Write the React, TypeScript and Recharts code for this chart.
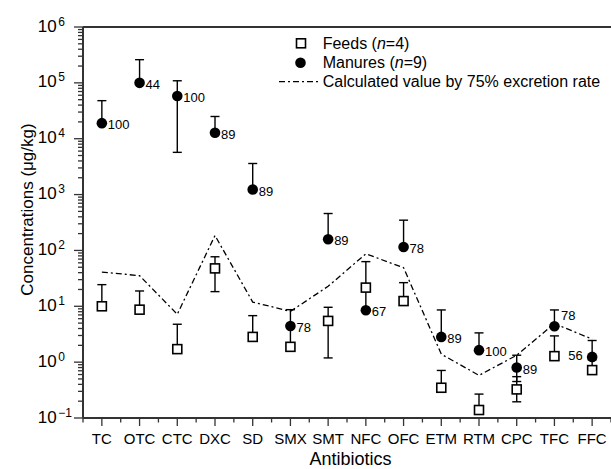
import React from 'react';
import {
  ComposedChart,
  XAxis,
  YAxis,
  Scatter,
  Line,
  ErrorBar,
  ReferenceLine,
  Legend,
} from 'recharts';

const FONT = "'Liberation Sans', Arial, Helvetica, sans-serif";

const categories = ['TC', 'OTC', 'CTC', 'DXC', 'SD', 'SMX', 'SMT', 'NFC', 'OFC', 'ETM', 'RTM', 'CPC', 'TFC', 'FFC'];

// Feeds (n=4): mean, lower bound, upper bound (µg/kg)
const feedMean = [10, 8.7, 1.71, 47.7, 2.83, 1.88, 5.47, 21.6, 12.4, 0.348, 0.139, 0.325, 1.28, 0.72];
const feedLow = [10, 8.7, 1.71, 18.3, 2.83, 1.88, 1.19, 21.6, 12.4, 0.348, 0.139, 0.195, 1.28, 0.72];
const feedHigh = [24.4, 18.8, 4.77, 77, 6.8, 8.7, 9.6, 21.6, 26.5, 0.71, 0.268, 0.55, 2.95, 1.1];

// Manures (n=9): mean, lower bound, upper bound (µg/kg)
const manureMean = [19000, 100000, 58000, 12800, 1230, 4.45, 159, 8.5, 115, 2.83, 1.64, 0.8, 4.4, 1.24];
const manureLow = [19000, 100000, 5700, 12800, 1230, 4.45, 159, 8.5, 115, 2.83, 1.64, 0.45, 4.4, 1.24];
const manureHigh = [48000, 260000, 109000, 25000, 3600, 4.45, 458, 63, 348, 8.6, 3.34, 1.33, 8.6, 2.44];

// Detection frequency (%) of manures
const detection = [100, 44, 100, 89, 89, 78, 89, 67, 78, 89, 100, 89, 78, 56];
const labelSide = ['right', 'right', 'right', 'right', 'right', 'right', 'right', 'right', 'right', 'right', 'right', 'right', 'above', 'left'];

// Calculated value by 75% excretion rate
const calcValue = [41, 35.3, 7.2, 185, 11.9, 8.1, 22.8, 87, 49, 1.39, 0.58, 1.33, 4.9, 2.58];

const yExponents = [-1, 0, 1, 2, 3, 4, 5, 6];

const data = categories.map((name, i) => ({
  x: i,
  name,
  feed: feedMean[i],
  feedErr: [feedMean[i] - feedLow[i], feedHigh[i] - feedMean[i]],
  manure: manureMean[i],
  manureErr: [manureMean[i] - manureLow[i], manureHigh[i] - manureMean[i]],
  calc: calcValue[i],
  det: detection[i],
  side: labelSide[i],
}));

const yTicks: number[] = [];
yExponents.forEach((e) => {
  yTicks.push(Math.pow(10, e));
  if (e < 6) {
    for (let m = 2; m <= 9; m++) yTicks.push(m * Math.pow(10, e));
  }
});

const xTicks: number[] = [];
for (let i = -0.5; i <= categories.length - 0.5 + 1e-9; i += 0.5) xTicks.push(i);

const AXIS = '#333';

const YTick = (props: any) => {
  const { x, y, payload } = props;
  const v = payload.value;
  const lg = Math.log10(v);
  const e = Math.round(lg);
  const major = Math.abs(lg - e) < 1e-6;
  return (
    <g>
      <line x1={x} y1={y} x2={x - (major ? 9 : 5)} y2={y} stroke={AXIS} strokeWidth={1.3} />
      {major && (
        <g fontFamily={FONT} fill="#000">
          <text x={x - 26.3} y={y + 4.5} fontSize={17} textAnchor="end">10</text>
          <text x={x - 24.7} y={y - 1.5} fontSize={12} textAnchor="start">
            {e < 0 ? '\u2212' + Math.abs(e) : String(e)}
          </text>
        </g>
      )}
    </g>
  );
};

const XTick = (props: any) => {
  const { x, y, payload } = props;
  const v = payload.value;
  const major = Math.abs(v - Math.round(v)) < 1e-6;
  return (
    <g>
      <line x1={x} y1={y} x2={x} y2={y + (major ? 8 : 4.5)} stroke={AXIS} strokeWidth={1.3} />
      {major && (
        <text x={x} y={y + 26} fontSize={15} fontFamily={FONT} textAnchor="middle" fill="#000">
          {categories[Math.round(v)]}
        </text>
      )}
    </g>
  );
};

const SquareShape = (props: any) => {
  const { cx, cy } = props;
  if (cx == null || cy == null) return null;
  return <rect x={cx - 4.5} y={cy - 4.5} width={9} height={9} fill="#fff" stroke="#000" strokeWidth={1.6} />;
};

const CircleShape = (props: any) => {
  const { cx, cy, payload } = props;
  if (cx == null || cy == null) return null;
  const side = payload?.side;
  let tx = cx + 6;
  let ty = cy + 6;
  let anchor: any = 'start';
  if (side === 'above') {
    tx = cx + 6.5;
    ty = cy - 6.5;
  } else if (side === 'left') {
    tx = cx - 9.5;
    ty = cy + 2.8;
    anchor = 'end';
  }
  return (
    <g>
      <circle cx={cx} cy={cy} r={5.3} fill="#000" />
      <text x={tx} y={ty} fontSize={13} fontFamily={FONT} textAnchor={anchor} fill="#000">
        {payload?.det}
      </text>
    </g>
  );
};

const LegendContent = () => (
  <svg width={340} height={66} style={{ display: 'block', overflow: 'visible' }}>
    <g fontFamily={FONT} fontSize={16} fill="#000">
      <rect x={31 - 4.5} y={13.3 - 4.5} width={9} height={9} fill="#fff" stroke="#000" strokeWidth={1.6} />
      <text x={52.7} y={18.5}>
        Feeds (<tspan fontStyle="italic">n</tspan>=4)
      </text>
      <circle cx={30.5} cy={32.7} r={5.3} fill="#000" />
      <text x={52.7} y={37.9}>
        Manures (<tspan fontStyle="italic">n</tspan>=9)
      </text>
      <line x1={9} y1={51.7} x2={48} y2={51.7} stroke="#000" strokeWidth={1.3} strokeDasharray="6 3 2 3" />
      <text x={52.7} y={57.2}>Calculated value by 75% excretion rate</text>
    </g>
  </svg>
);

const YTitle = (props: any) => {
  const vb = props.viewBox || { x: 0, y: 27, width: 83, height: 391 };
  const cx = vb.x + 27;
  const cy = vb.y + vb.height / 2 - 13;
  return (
    <text
      x={cx}
      y={cy}
      transform={`rotate(-90, ${cx}, ${cy})`}
      textAnchor="middle"
      dominantBaseline="central"
      fontSize={17}
      fontFamily={FONT}
      fill="#000"
    >
      Concentrations (μg/kg)
    </text>
  );
};

const XTitle = (props: any) => {
  const vb = props.viewBox || { x: 83, y: 418, width: 528, height: 51 };
  return (
    <text x={vb.x + vb.width / 2 + 3.5} y={vb.y + 47} textAnchor="middle" fontSize={18} fontFamily={FONT} fill="#000">
      Antibiotics
    </text>
  );
};

export default function App() {
  return (
    <div style={{ position: 'absolute', left: 0, top: 0, width: 611, height: 469, background: '#fff' }}>
      <ComposedChart
        width={611}
        height={469}
        data={data}
        margin={{ top: 27, right: 0, bottom: 0, left: 0 }}
        style={{ fontFamily: FONT }}
      >
        <XAxis
          dataKey="x"
          type="number"
          domain={[-0.5, categories.length - 0.5]}
          ticks={xTicks}
          interval={0}
          allowDecimals
          allowDataOverflow
          height={51}
          tickSize={0}
          tickMargin={0}
          tickLine={false}
          tick={<XTick />}
          axisLine={{ stroke: AXIS, strokeWidth: 2 }}
          label={{ content: (p: any) => <XTitle {...p} /> }}
        />
        <YAxis
          type="number"
          scale="log"
          domain={[0.1, 1000000]}
          ticks={yTicks}
          interval={0}
          allowDataOverflow
          width={83}
          tickSize={0}
          tickMargin={0}
          tickLine={false}
          tick={<YTick />}
          axisLine={{ stroke: AXIS, strokeWidth: 2 }}
          label={{ content: (p: any) => <YTitle {...p} /> }}
        />
        <ReferenceLine y={1000000} stroke={AXIS} strokeWidth={2} ifOverflow="visible" />
        <Legend
          layout="vertical"
          align="center"
          verticalAlign="middle"
          wrapperStyle={{ left: 270, top: 30, width: 340 }}
          content={() => <LegendContent />}
        />
        <Line
          dataKey="calc"
          type="linear"
          stroke="#000"
          strokeWidth={1.3}
          strokeDasharray="6 3 2 3"
          dot={false}
          activeDot={false}
          isAnimationActive={false}
        />
        <Scatter dataKey="feed" shape={<SquareShape />} isAnimationActive={false}>
          <ErrorBar dataKey="feedErr" direction="y" width={4.5} stroke="#000" strokeWidth={1.4} />
        </Scatter>
        <Scatter dataKey="manure" shape={<CircleShape />} isAnimationActive={false}>
          <ErrorBar dataKey="manureErr" direction="y" width={4.5} stroke="#000" strokeWidth={1.4} />
        </Scatter>
      </ComposedChart>
    </div>
  );
}
